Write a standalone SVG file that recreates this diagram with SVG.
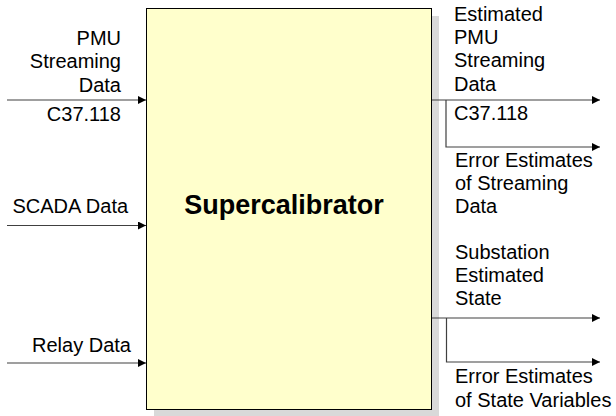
<svg xmlns="http://www.w3.org/2000/svg" width="616" height="416" viewBox="0 0 616 416">
<style>
text{font-family:"Liberation Sans",Arial,sans-serif;font-size:20px;fill:#000}
.e{text-anchor:end}
.c{stroke:#404040;stroke-width:1.2;fill:none}
</style>
<defs>
<marker id="ah" viewBox="0 0 10 10" refX="10" refY="5" markerWidth="9" markerHeight="8" markerUnits="userSpaceOnUse" orient="auto">
<path d="M0,0 L10,5 L0,10 z" fill="#000"/>
</marker>
</defs>
<rect width="616" height="416" fill="#fff"/>
<g id="supercalibrator">
<rect x="154" y="16" width="285" height="401" fill="#d9d9d9"/>
<rect x="146.5" y="8.5" width="285" height="401" fill="#ffffcc" stroke="#000" stroke-width="1"/>
<text x="284" y="214" text-anchor="middle" style="font-size:27px;font-weight:bold">Supercalibrator</text>
</g>
<g id="connectors">
<path class="c" d="M7,100 H146" marker-end="url(#ah)"/>
<path class="c" d="M7,225.5 H146" marker-end="url(#ah)"/>
<path class="c" d="M7,363 H146" marker-end="url(#ah)"/>
<path class="c" d="M432,100 H600" marker-end="url(#ah)"/>
<path class="c" d="M446,100 V147 H600" marker-end="url(#ah)"/>
<path class="c" d="M432,318 H600" marker-end="url(#ah)"/>
<path class="c" d="M446.5,318 V362 H600" marker-end="url(#ah)"/>
</g>
<g id="in-pmu">
<text class="e" x="121" y="45">PMU</text>
<text class="e" x="121" y="68">Streaming</text>
<text class="e" x="121" y="91.5">Data</text>
<text class="e" x="121" y="121">C37.118</text>
</g>
<g id="in-scada">
<text x="12.5" y="213">SCADA Data</text>
</g>
<g id="in-relay">
<text x="32" y="351.5">Relay Data</text>
</g>
<g id="out-pmu">
<text x="454" y="20.5">Estimated</text>
<text x="454" y="44">PMU</text>
<text x="454" y="67">Streaming</text>
<text x="454" y="90.5">Data</text>
<text x="454" y="120">C37.118</text>
</g>
<g id="out-error-streaming">
<text x="455" y="167">Error Estimates</text>
<text x="455" y="190">of Streaming</text>
<text x="455" y="213">Data</text>
</g>
<g id="out-state">
<text x="455" y="259">Substation</text>
<text x="455" y="282">Estimated</text>
<text x="455" y="305">State</text>
</g>
<g id="out-error-state">
<text x="455" y="383">Error Estimates</text>
<text x="455" y="406.5">of State Variables</text>
</g>
</svg>
